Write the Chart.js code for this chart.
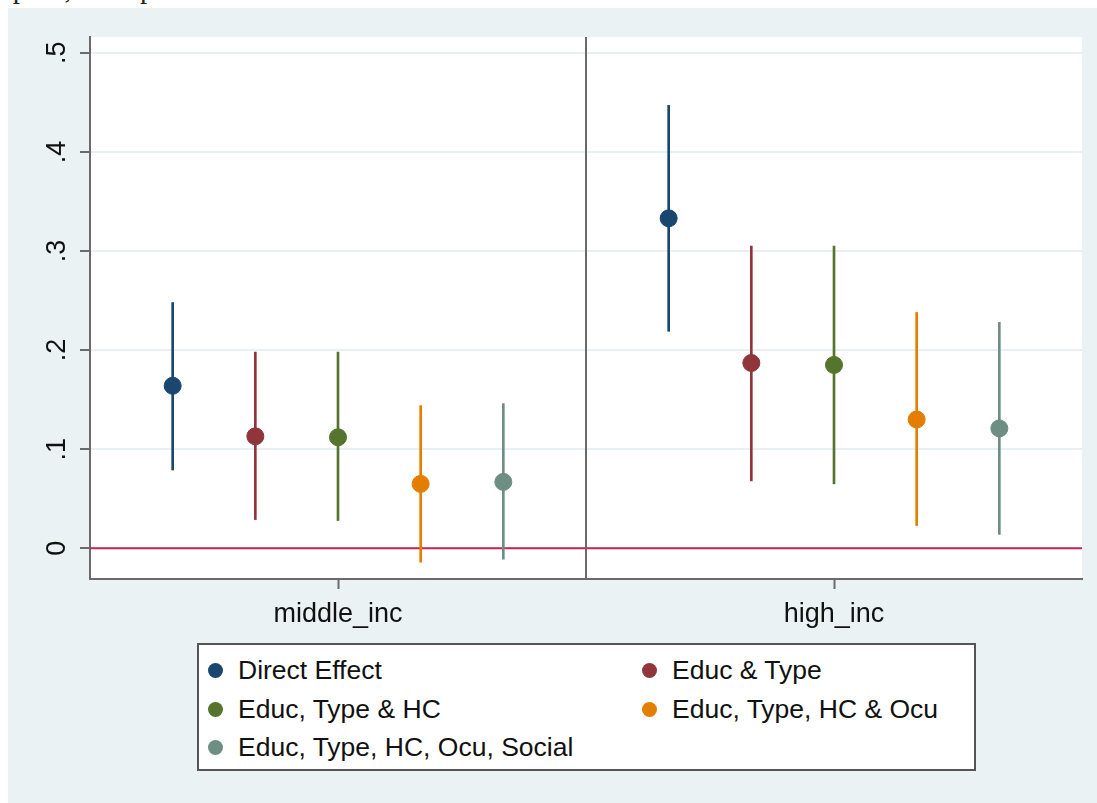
<!DOCTYPE html>
<html>
<head>
<meta charset="utf-8">
<script src="https://cdn.jsdelivr.net/npm/chart.js@4.4.0/dist/chart.umd.min.js"></script>
<style>
  body { margin: 0; background: #fff; width: 1097px; height: 803px; overflow: hidden; position: relative; }
  #caption { position: absolute; left: 0px; top: -26px; font-family: "Liberation Serif", "DejaVu Serif", serif; font-size: 29px; line-height: 29px; color: #222; white-space: nowrap; }
  #frame { position: absolute; left: 8px; top: 8px; width: 1089px; height: 795px; background: #eaf2f3; }
  #chartBox { position: absolute; left: 0; top: 0; width: 1089px; height: 640px; }
  #legend { position: absolute; left: 189px; top: 635px; width: 775px; height: 124px; background: #fff; border: 2px solid #555;
            font-family: "Liberation Sans", Arial, sans-serif; font-size: 26.5px; color: #111; }
  .item { position: absolute; white-space: nowrap; line-height: 30px; }
  .dot { display: inline-block; width: 15px; height: 15px; border-radius: 50%; margin-right: 15px; vertical-align: 1px; }
</style>
</head>
<body>
<div id="caption">apital, Occupation and Social Network</div>
<div id="frame">
  <div id="chartBox"><canvas id="coefChart" width="1089" height="640"></canvas></div>
  <div id="legend"></div>
</div>
<script>
// 数据
const groups = ['middle_inc', 'high_inc'];
const groupPos = [3, 9];
const groupDivider = 6;
const seriesNames = ['Direct Effect', 'Educ & Type', 'Educ, Type & HC', 'Educ, Type, HC & Ocu', 'Educ, Type, HC, Ocu, Social'];
const seriesColors = ['#1a476f', '#90353b', '#55752f', '#e37e00', '#6e8e84'];
const offsets = [-2, -1, 0, 1, 2];
// 每组的点估计值 [middle_inc, high_inc]
const estimates = [
    [0.164, 0.333],
    [0.113, 0.187],
    [0.112, 0.185],
    [0.065, 0.130],
    [0.067, 0.121]
];
const lowerCI = [
    [0.079, 0.219],
    [0.029, 0.068],
    [0.028, 0.065],
    [-0.014, 0.023],
    [-0.011, 0.014]
];
const upperCI = [
    [0.248, 0.447],
    [0.198, 0.305],
    [0.198, 0.305],
    [0.144, 0.238],
    [0.146, 0.228]
];
const yTicks = [0, 0.1, 0.2, 0.3, 0.4, 0.5];

const datasets = [];
seriesNames.forEach((name, i) => {
    datasets.push({
        type: 'scatter',
        label: name,
        data: groupPos.map((g, j) => ({ x: g + offsets[i], y: estimates[i][j] })),
        backgroundColor: seriesColors[i],
        borderColor: seriesColors[i],
        pointRadius: 8.5,
        pointHoverRadius: 8.5,
        order: 0
    });
    datasets.push({
        type: 'bar',
        label: name + ' CI',
        data: groupPos.map((g, j) => ({ x: g + offsets[i], y: [lowerCI[i][j], upperCI[i][j]] })),
        backgroundColor: seriesColors[i],
        borderWidth: 0,
        barThickness: 2,
        grouped: false,
        order: 1
    });
});

// 白色绘图区、零线、分隔线
const decorations = {
    id: 'decorations',
    beforeDraw(chart) {
        const { ctx, chartArea: a } = chart;
        ctx.save();
        ctx.fillStyle = '#ffffff';
        ctx.fillRect(a.left, a.top, a.right - a.left, a.bottom - a.top);
        ctx.restore();
    },
    beforeDatasetsDraw(chart) {
        const { ctx, chartArea: a, scales } = chart;
        ctx.save();
        const y0 = scales.y.getPixelForValue(0);
        ctx.strokeStyle = '#c8244f';
        ctx.lineWidth = 2;
        ctx.beginPath();
        ctx.moveTo(a.left, y0);
        ctx.lineTo(a.right, y0);
        ctx.stroke();
        const xd = scales.x.getPixelForValue(groupDivider);
        ctx.strokeStyle = '#6a6a6a';
        ctx.lineWidth = 2;
        ctx.beginPath();
        ctx.moveTo(xd, a.top);
        ctx.lineTo(xd, a.bottom);
        ctx.stroke();
        ctx.restore();
    }
};

const ctx = document.getElementById('coefChart').getContext('2d');
const coefChart = new Chart(ctx, {
    type: 'scatter',
    data: { datasets },
    options: {
        responsive: false,
        animation: false,
        layout: { padding: { top: 29, right: 15, left: 0, bottom: 0 } },
        plugins: { legend: { display: false }, tooltip: { enabled: false } },
        scales: {
            x: {
                type: 'linear',
                min: 0,
                max: 12,
                offset: false,
                afterBuildTicks: axis => { axis.ticks = groupPos.map(v => ({ value: v })); },
                afterFit: axis => { axis.height = 69; },
                ticks: {
                    callback: v => groups[groupPos.indexOf(v)],
                    color: '#111',
                    padding: 9,
                    maxRotation: 0,
                    font: { family: 'Liberation Sans, Arial, sans-serif', size: 27 }
                },
                grid: { offset: false, drawOnChartArea: false, tickLength: 10, tickColor: '#6a6a6a', tickWidth: 2 },
                border: { color: '#6a6a6a', width: 2 }
            },
            y: {
                min: -0.031,
                max: 0.516,
                afterBuildTicks: axis => { axis.ticks = yTicks.map(v => ({ value: v })); },
                afterFit: axis => { axis.width = 82; },
                ticks: {
                    callback: v => (v === 0 ? '0' : '.' + Math.round(v * 10)),
                    color: '#111',
                    minRotation: 90,
                    maxRotation: 90,
                    crossAlign: 'center',
                    padding: 11,
                    font: { family: 'Liberation Sans, Arial, sans-serif', size: 27 }
                },
                grid: { color: '#e8f0f1', lineWidth: 2, tickLength: 10, tickColor: '#6a6a6a', tickWidth: 2 },
                border: { color: '#6a6a6a', width: 2 }
            }
        }
    },
    plugins: [decorations]
});

// 图例（两列）
const legendEl = document.getElementById('legend');
seriesNames.forEach((name, i) => {
    const col = i % 2;
    const row = Math.floor(i / 2);
    const item = document.createElement('div');
    item.className = 'item';
    item.style.left = (col === 0 ? 9 : 443) + 'px';
    item.style.top = (10 + row * 38.5) + 'px';
    item.innerHTML = '<span class="dot" style="background:' + seriesColors[i] + '"></span>' + name;
    legendEl.appendChild(item);
});
</script>
</body>
</html>
